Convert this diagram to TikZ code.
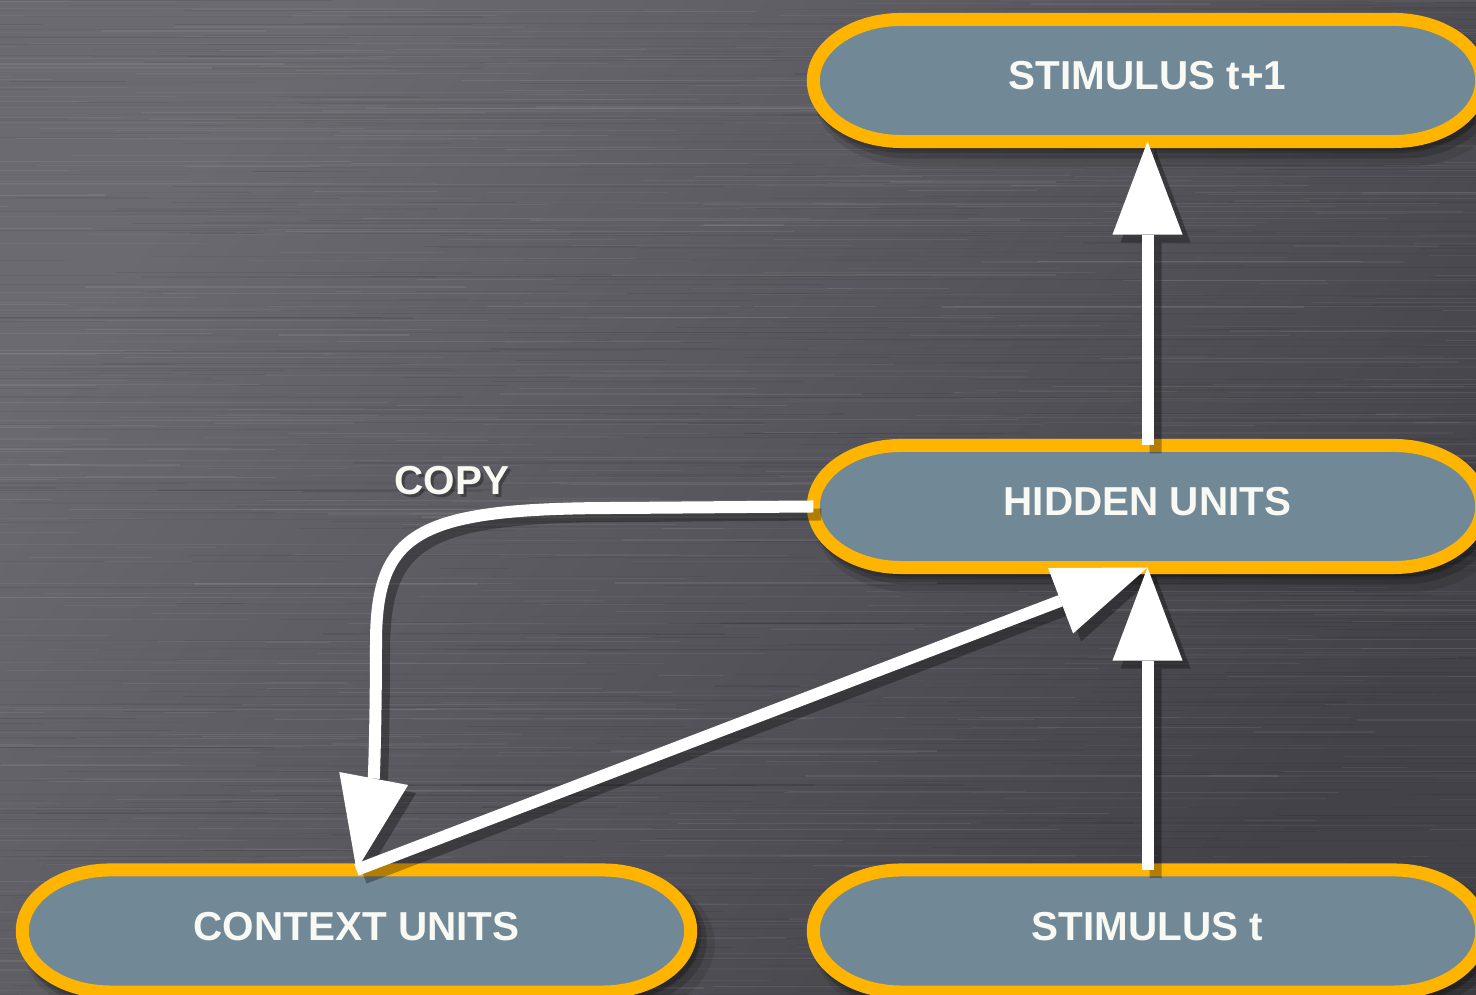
\documentclass[tikz,border=0pt]{standalone}
\usepackage{fontspec}
\setmainfont{Liberation Sans}
\usetikzlibrary{arrows.meta}

\definecolor{bgA}{HTML}{6A6A70}
\definecolor{bgB}{HTML}{424248}
\definecolor{unitfill}{HTML}{718897}
\definecolor{unitedge}{HTML}{FFB400}
\definecolor{labeltext}{HTML}{F7F9F2}

\pgfdeclarelayer{backdrop}
\pgfdeclarelayer{capsules}
\pgfsetlayers{backdrop,capsules,main}

% half-length of the elliptic ends and half-height of a unit
\newcommand\capr{0.88cm}
\newcommand\capry{0.61cm}
% capsule outline around a named node: #1 path options, #2 node name
\newcommand\unitcapsule[2]{%
  \path[#1] ([xshift=\capr]#2.north west) -- ([xshift=-\capr]#2.north east)
    arc[start angle=90, end angle=-90, x radius=\capr, y radius=\capry]
    -- ([xshift=\capr]#2.south west)
    arc[start angle=270, end angle=90, x radius=\capr, y radius=\capry] -- cycle;}

\begin{document}
\begin{tikzpicture}[x=0.01cm, y=0.01cm,
  unit/.style={rectangle, minimum width=6.68cm, minimum height=1.22cm,
    inner sep=0pt, outer sep=0pt, text=labeltext,
    font=\fontsize{11.5pt}{13pt}\selectfont\bfseries,
    text height=0.29cm, text depth=0.1cm},
  tag/.style={inner sep=0pt, text=labeltext, font=\fontsize{11.5pt}{13pt}\selectfont\bfseries,
    text height=0.29cm, text depth=0pt},
  conn/.style={draw=white, line width=0.12cm,
    -{Triangle[length=0.93cm, width=0.70cm, line width=0pt]}},
  connshade/.style={draw=black, line width=0.12cm,
    -{Triangle[length=0.93cm, width=0.70cm, line width=0pt]}},
  unitbody/.style={fill=unitfill, draw=unitedge, line width=0.13cm},
]
\useasboundingbox (0,0) rectangle (1476,995);

% brushed metal backdrop
\begin{pgfonlayer}{backdrop}
  \shade[top color=bgA, bottom color=bgB, shading angle=50] (0,0) rectangle (1476,995);
  \pgfmathsetseed{17}
  \foreach \i in {1,...,1400}{
    \pgfmathsetmacro\yy{rnd*995}
    \pgfmathsetmacro\xa{rnd*1700-250}
    \pgfmathsetmacro\ll{60+rnd*520}
    \pgfmathsetmacro\op{0.025+rnd*0.055}
    \pgfmathsetmacro\lw{0.005+rnd*0.009}
    \ifodd\i
      \draw[white, opacity=\op, line width=\lw cm] (\xa,\yy) -- ++(\ll,0);
    \else
      \draw[black, opacity=\op, line width=\lw cm] (\xa,\yy) -- ++(\ll,0);
    \fi
  }
\end{pgfonlayer}

% units
\node[unit] (s1)  at (1147.5,914.5) {STIMULUS t+1};
\node[unit] (hid) at (1147.5,488.5) {HIDDEN UNITS};
\node[unit] (ctx) at (356.5,64)     {CONTEXT UNITS};
\node[unit] (st)  at (1147.5,64)    {STIMULUS t};

\begin{pgfonlayer}{capsules}
  % soft drop shadows, falling to the lower right
  \foreach \n in {s1,hid,ctx,st}{
    \begin{scope}[transform canvas={shift={(0.12cm,-0.13cm)}}]
      \unitcapsule{draw=black, draw opacity=0.10, line width=0.24cm}{\n}
    \end{scope}
    \begin{scope}[transform canvas={shift={(0.08cm,-0.09cm)}}]
      \unitcapsule{fill=black, fill opacity=0.16, draw=black, draw opacity=0.16, line width=0.16cm}{\n}
    \end{scope}
    \begin{scope}[transform canvas={shift={(0.04cm,-0.05cm)}}]
      \unitcapsule{draw=black, draw opacity=0.14, line width=0.13cm}{\n}
    \end{scope}
  }
  \foreach \n in {s1,hid,ctx,st}{
    \unitcapsule{unitbody}{\n}
  }
\end{pgfonlayer}

% connector shadows
\begin{scope}[transparency group, opacity=0.30, transform canvas={shift={(0.08cm,-0.08cm)}}]
  \draw[connshade] (hid.north) -- (s1.south);
  \draw[connshade] (st.north) -- (hid.south);
  \draw[connshade] (ctx.north) -- (hid.south);
  \draw[connshade] (hid.west) -- (620,487) .. controls (420,487) and (377,465) .. (376,355)
    .. controls (376,275) and (374,218) .. (ctx.north);
\end{scope}

% connectors
\draw[conn] (hid.north) -- (s1.south);
\draw[conn] (st.north) -- (hid.south);
\draw[conn] (ctx.north) -- (hid.south);
\draw[conn] (hid.west) -- (620,487) .. controls (420,487) and (377,465) .. (376,355)
  .. controls (376,275) and (374,218) .. (ctx.north);

% label of the copy connection
\node[tag, text=black, opacity=0.3] at (455,512) {COPY};
\node[tag] (copy) at (452,515) {COPY};
\end{tikzpicture}
\end{document}
